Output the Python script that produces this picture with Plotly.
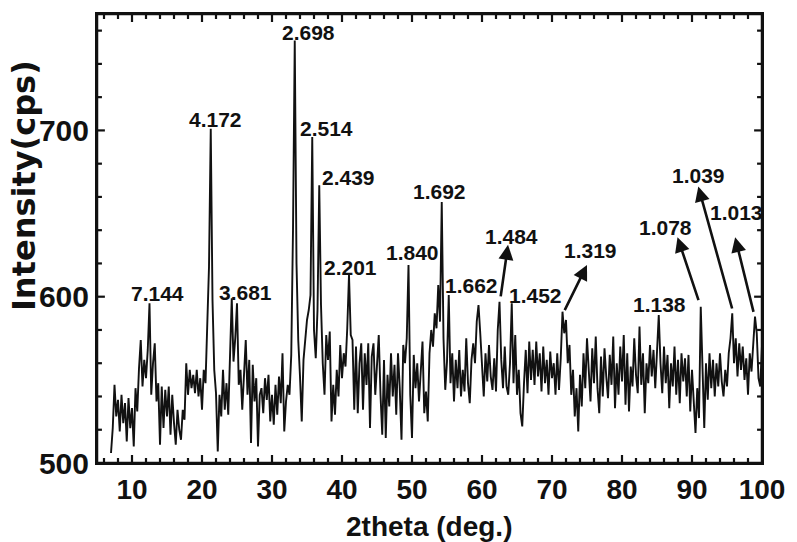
import plotly.graph_objects as go

# Powder XRD scan, Cu K-alpha, sampled every 0.25 deg (2theta)
STEP = 0.25

# intensity (cps), 7.00 -> 29.75 deg
int_07_30 = [
    506, 521, 547, 528, 538, 519, 541, 524, 536, 513,
    539, 521, 533, 510, 545, 531, 557, 574, 546, 562,
    551, 568, 596, 541, 560, 572, 537, 548, 511, 546,
    521, 544, 528, 546, 517, 541, 524, 511, 532, 520,
    514, 532, 526, 560, 541, 556, 545, 553, 542, 556,
    540, 551, 532, 556, 548, 577, 618, 701, 598, 556,
    542, 507, 541, 528, 556, 532, 548, 529, 562, 599,
    561, 575, 596, 547, 556, 532, 553, 574, 541, 562,
    512, 559, 537, 551, 510, 541, 545, 530, 551, 538,
    553, 525,
]

# intensity (cps), 30.00 -> 54.75 deg
int_30_55 = [
    541, 523, 547, 529, 552, 536, 566, 519, 537, 547,
    541, 565, 640, 754, 620, 574, 552, 525, 562, 574,
    586, 592, 601, 696, 580, 563, 592, 667, 595, 560,
    541, 577, 562, 579, 525, 547, 529, 556, 540, 571,
    551, 566, 558, 581, 613, 577, 574, 532, 570, 530,
    560, 572, 532, 566, 547, 572, 521, 564, 572, 541,
    560, 577, 541, 517, 562, 515, 553, 534, 566, 540,
    559, 529, 566, 545, 514, 571, 560, 575, 619, 541,
    515, 565, 545, 560, 537, 556, 573, 530, 543, 525,
    566, 580, 570, 590, 581, 607, 585, 657, 575, 544,
]

# intensity (cps), 55.00 -> 79.75 deg
int_55_80 = [
    561, 601, 548, 566, 537, 562, 545, 568, 540, 556,
    543, 575, 548, 536, 562, 572, 560, 585, 595, 578,
    560, 540, 566, 549, 571, 552, 544, 563, 543, 580,
    597, 562, 545, 570, 546, 541, 560, 596, 548, 577,
    541, 556, 530, 522, 548, 568, 542, 573, 550, 568,
    547, 573, 552, 566, 543, 570, 548, 562, 541, 567,
    551, 560, 541, 566, 544, 563, 591, 578, 586, 560,
    571, 541, 556, 528, 545, 519, 553, 534, 566, 545,
    575, 551, 537, 569, 548, 576, 545, 530, 564, 540,
    569, 552, 539, 565, 547, 576, 533, 560, 541, 570,
]

# intensity (cps), 80.00 -> 100.00 deg
int_80_100 = [
    549, 577, 535, 566, 531, 558, 546, 575, 553, 542,
    582, 547, 566, 530, 560, 548, 571, 552, 568, 545,
    572, 589, 560, 542, 570, 548, 565, 533, 560, 546,
    570, 541, 562, 536, 566, 549, 563, 540, 565, 531,
    556, 534, 518, 545, 527, 594, 550, 521, 560, 538,
    566, 545, 562, 540, 560, 546, 566, 549, 540, 556,
    546, 566, 575, 590, 560, 575, 552, 572, 556, 570,
    550, 563, 541, 566, 555, 575, 588, 578, 551, 546,
    571,
]

segments = [(7.0, int_07_30), (30.0, int_30_55), (55.0, int_55_80), (80.0, int_80_100)]

two_theta, intensity = [], []
for start, vals in segments:
    two_theta += [round(start + STEP * i, 2) for i in range(len(vals))]
    intensity += vals

# d-spacing labels (angstrom) placed beside their reflections
d_labels = ["7.144", "4.172", "3.681", "2.698", "2.514", "2.439", "2.201",
            "1.840", "1.692", "1.662", "1.484", "1.452", "1.319", "1.138",
            "1.078", "1.039", "1.013"]
label_pos = [(13.60, 601.7), (21.99, 706.4), (26.16, 602.3), (35.25, 759.0),
             (37.72, 701.4), (40.89, 671.8), (41.18, 617.6), (50.13, 626.7),
             (53.94, 663.4), (58.46, 606.5), (64.24, 636.3), (67.62, 600.8),
             (75.52, 627.9), (85.32, 595.4), (86.24, 641.7), (90.96, 673.0),
             (96.40, 650.7)]

# pointer arrows: (from peak top) -> (to label)
arrow_from = [(62.64, 599.3), (71.71, 591.0), (91.00, 597.0), (95.79, 592.0), (98.84, 590.0)]
arrow_to = [(63.72, 631.2), (75.00, 619.1), (87.93, 635.8), (90.90, 666.2), (96.16, 635.8)]

X_RANGE = [5, 100]
Y_RANGE = [500, 770]
X_MAJOR = [10, 20, 30, 40, 50, 60, 70, 80, 90, 100]
X_MINOR_STEP = 2
Y_MAJOR = [500, 600, 700]
Y_MINOR_STEP = 20

WIDTH, HEIGHT = 797, 542
MARGIN = dict(l=97, r=26, t=14, b=79)

FONT = "Liberation Sans, Arial, sans-serif"
INK = "#111111"

fig = go.Figure()
fig.add_trace(go.Scatter(
    x=two_theta, y=intensity, mode="lines",
    line=dict(color=INK, width=1.9),
    hoverinfo="x+y", showlegend=False,
))

# inward tick marks on all four sides, drawn as one broken polyline;
# tick lengths are given in pixels and converted to axis units
plot_w = WIDTH - MARGIN["l"] - MARGIN["r"]
plot_h = HEIGHT - MARGIN["t"] - MARGIN["b"]
x_per_px = (X_RANGE[1] - X_RANGE[0]) / plot_w
y_per_px = (Y_RANGE[1] - Y_RANGE[0]) / plot_h
MAJOR_LEN, MINOR_LEN = 8, 5

tick_x, tick_y = [], []
v = X_RANGE[0] + 1
while v < X_RANGE[1]:
    dy = (MAJOR_LEN if v in X_MAJOR else MINOR_LEN) * y_per_px
    tick_x += [v, v, None, v, v, None]
    tick_y += [Y_RANGE[0], Y_RANGE[0] + dy, None, Y_RANGE[1], Y_RANGE[1] - dy, None]
    v += X_MINOR_STEP
v = Y_RANGE[0] + Y_MINOR_STEP
while v < Y_RANGE[1]:
    dx = (MAJOR_LEN if v in Y_MAJOR else MINOR_LEN) * x_per_px
    tick_x += [X_RANGE[0], X_RANGE[0] + dx, None, X_RANGE[1], X_RANGE[1] - dx, None]
    tick_y += [v, v, None, v, v, None]
    v += Y_MINOR_STEP

fig.add_trace(go.Scatter(
    x=tick_x, y=tick_y, mode="lines", line=dict(color=INK, width=2.2),
    hoverinfo="skip", showlegend=False, cliponaxis=False, connectgaps=False,
))

annotations = []
for txt, (lx, ly) in zip(d_labels, label_pos):
    annotations.append(dict(
        x=lx, y=ly, xref="x", yref="y", text=txt, showarrow=False,
        xanchor="center", yanchor="middle",
        font=dict(family=FONT, size=21, color=INK, weight="bold"),
    ))
for (tx, ty), (hx, hy) in zip(arrow_from, arrow_to):
    annotations.append(dict(
        x=hx, y=hy, ax=tx, ay=ty, xref="x", yref="y", axref="x", ayref="y",
        text="", showarrow=True, arrowhead=2, arrowsize=1.15, arrowwidth=2.6,
        arrowcolor=INK, standoff=0, startstandoff=0,
    ))

# axis titles
annotations.append(dict(
    x=0.4985, y=-0.1425, xref="paper", yref="paper", text="2theta (deg.)",
    showarrow=False, xanchor="center", yanchor="middle",
    font=dict(family=FONT, size=28, color=INK, weight="bold"),
))
annotations.append(dict(
    x=-0.1098, y=0.619, xref="paper", yref="paper", text="Intensity(cps)",
    showarrow=False, xanchor="center", yanchor="middle", textangle=-90,
    font=dict(family="DejaVu Sans, sans-serif", size=32, color=INK, weight="bold"),
))

fig.update_layout(
    width=WIDTH, height=HEIGHT, autosize=False,
    margin=MARGIN,
    paper_bgcolor="white", plot_bgcolor="white",
    annotations=annotations,
    shapes=[dict(type="rect", xref="paper", yref="paper", x0=0, y0=0, x1=1, y1=1,
                 line=dict(color=INK, width=2.5), fillcolor="rgba(0,0,0,0)",
                 layer="above")],
    xaxis=dict(
        range=X_RANGE, tickmode="array", tickvals=X_MAJOR,
        showline=True, linecolor=INK, linewidth=2, mirror=True,
        ticks="", showgrid=False, zeroline=False,
        tickfont=dict(family=FONT, size=28, color=INK, weight="bold"),
    ),
    yaxis=dict(
        range=Y_RANGE, tickmode="array", tickvals=Y_MAJOR,
        showline=True, linecolor=INK, linewidth=2, mirror=True,
        ticks="", showgrid=False, zeroline=False,
        tickfont=dict(family=FONT, size=30, color=INK, weight="bold"),
    ),
)

fig.write_html("out.html")
